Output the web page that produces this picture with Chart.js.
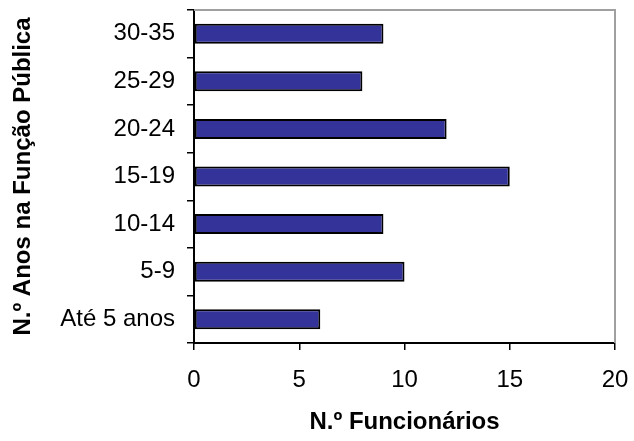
<!DOCTYPE html>
<html lang="pt">
  <head>
    <meta charset="UTF-8" />
    <title>N.º Anos na Função Pública</title>
    <script src="https://cdn.jsdelivr.net/npm/chart.js"></script>
    <style>
      body {
        margin: 0;
        background-color: #fff;
      }
      #wrap {
        width: 634px;
        height: 441px;
      }
    </style>
  </head>
  <body>
    <div id="wrap">
      <canvas id="myChart" width="634" height="441"></canvas>
    </div>
    <script>
      // data, top to bottom as in the picture
      const categories = ["30-35", "25-29", "20-24", "15-19", "10-14", "5-9", "Até 5 anos"];
      const funcionarios = [9, 8, 12, 15, 9, 10, 6];
      const xTicks = [0, 5, 10, 15, 20];

      // gray frame on top and right of the plot area
      const plotFrame = {
        id: "plotFrame",
        afterDraw(chart) {
          const { ctx, chartArea: { left, right, top, bottom } } = chart;
          ctx.save();
          ctx.strokeStyle = "#a0a0a0";
          ctx.lineWidth = 2;
          ctx.beginPath();
          ctx.moveTo(left, top);
          ctx.lineTo(right, top);
          ctx.lineTo(right, bottom);
          ctx.stroke();
          ctx.restore();
        },
      };

      // keep the plot area exactly where the layout padding puts it
      function noOverflow(axis) {
        axis.paddingTop = 0;
        axis.paddingBottom = 0;
        axis.paddingLeft = 0;
        axis.paddingRight = 0;
      }

      Chart.defaults.font.family = "'Liberation Sans', Arial, sans-serif";
      Chart.defaults.color = "#000";

      const ctx = document.getElementById("myChart");

      new Chart(ctx, {
        type: "bar",
        data: {
          labels: categories,
          datasets: [
            {
              label: "N.º Funcionários",
              data: funcionarios,
              backgroundColor: "#333399",
              borderColor: "#000",
              borderWidth: 2,
              borderSkipped: false,
              categoryPercentage: 1,
              barPercentage: 0.42,
            },
          ],
        },
        options: {
          indexAxis: "y",
          responsive: false,
          animation: false,
          layout: {
            padding: { top: 10, right: 19, left: 0, bottom: 0 },
          },
          plugins: {
            legend: { display: false },
            tooltip: { enabled: false },
          },
          scales: {
            x: {
              min: 0,
              max: 20,
              afterBuildTicks(axis) {
                axis.ticks = xTicks.map((v) => ({ value: v }));
              },
              afterFit(axis) {
                axis.height = 98;
                noOverflow(axis);
              },
              grid: {
                drawOnChartArea: false,
                tickLength: 7,
                color: "#000",
                lineWidth: 1.5,
              },
              border: { color: "#000", width: 2 },
              ticks: {
                font: { size: 24 },
                padding: 16,
                maxRotation: 0,
              },
              title: {
                display: true,
                text: "N.º Funcionários",
                font: { size: 24, weight: "bold" },
                padding: { top: 4, bottom: 4 },
              },
            },
            y: {
              offset: true,
              afterFit(axis) {
                axis.width = 194;
                noOverflow(axis);
              },
              grid: {
                offset: true,
                drawOnChartArea: false,
                tickLength: 7,
                color: "#000",
                lineWidth: 1.5,
              },
              border: { color: "#000", width: 2 },
              ticks: {
                font: { size: 24 },
                padding: 12,
              },
              title: {
                display: true,
                text: "N.º Anos na Função Pública",
                font: { size: 24, weight: "bold" },
                padding: { top: 9, bottom: 0 },
              },
            },
          },
        },
        plugins: [plotFrame],
      });
    </script>
  </body>
</html>
